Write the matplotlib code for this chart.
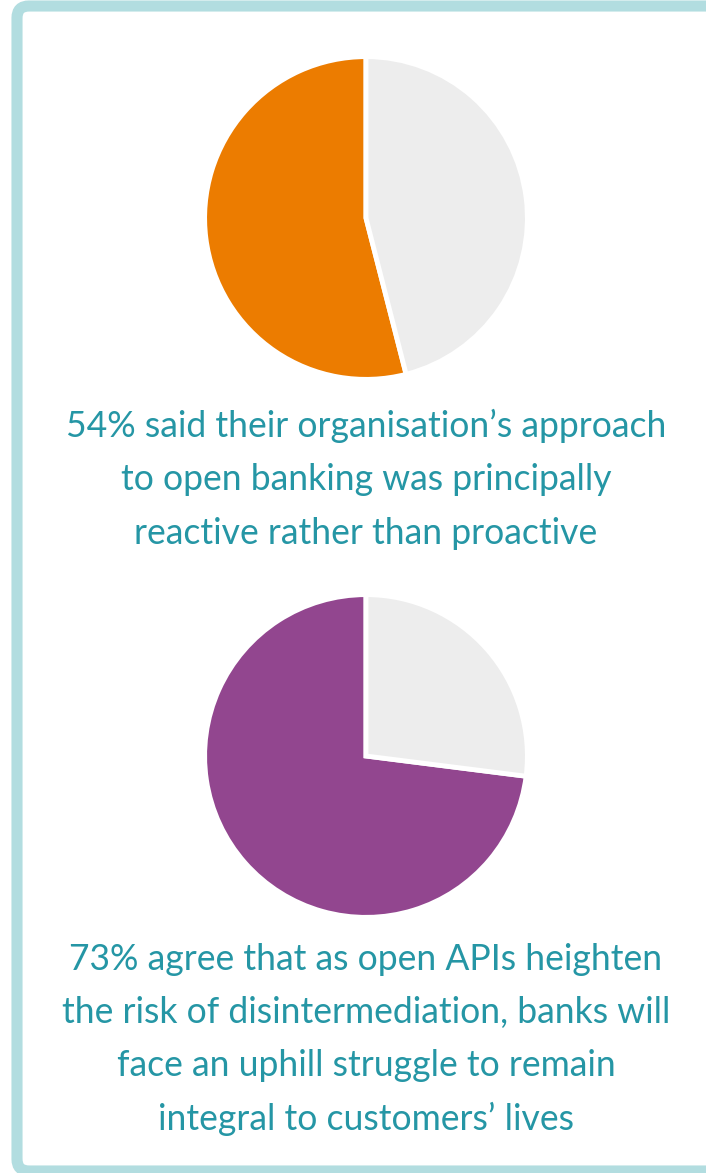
import matplotlib
matplotlib.use("Agg")
import matplotlib.pyplot as plt
from matplotlib.patches import FancyBboxPatch

W, H = 706, 1173

# survey results: share agreeing vs the rest
reactive_share = [54, 46]
disintermediation_share = [73, 27]

reactive_colors = ["#ec7c00", "#ededed"]
disintermediation_colors = ["#92468f", "#ededed"]

reactive_caption = ["54% said their organisation\u2019s approach",
                    "to open banking was principally",
                    "reactive rather than proactive"]
disintermediation_caption = ["73% agree that as open APIs heighten",
                             "the risk of disintermediation, banks will",
                             "face an uphill struggle to remain",
                             "integral to customers\u2019 lives"]

TEXT_COLOR = "#2596a5"
BORDER_COLOR = "#b2dde0"

fig = plt.figure(figsize=(W / 100, H / 100), dpi=100)
fig.patch.set_facecolor("white")

# background axes in pixel units for border and captions
bg = fig.add_axes([0, 0, 1, 1])
bg.set_xlim(0, W)
bg.set_ylim(H, 0)
bg.axis("off")

frame = FancyBboxPatch((17, 6), 740, 1165,
                       boxstyle="round,pad=0,rounding_size=12",
                       facecolor="white", edgecolor=BORDER_COLOR,
                       linewidth=8, zorder=0)
bg.add_patch(frame)


def draw_pie(values, colors, cx, cy, r):
    ax = fig.add_axes([(cx - r) / W, 1 - (cy + r) / H, 2 * r / W, 2 * r / H])
    ax.pie(values, colors=colors, startangle=90, counterclock=True,
           wedgeprops=dict(edgecolor="white", linewidth=3.5))
    ax.set_xlim(-1.01, 1.01)
    ax.set_ylim(-1.01, 1.01)
    ax.set_aspect("equal")
    ax.axis("off")


draw_pie(reactive_share, reactive_colors, 366, 218, 163)
draw_pie(disintermediation_share, disintermediation_colors, 366, 756, 163)


def draw_caption(lines, y0, step):
    for i, line in enumerate(lines):
        bg.text(366, y0 + i * step, line, ha="center", va="center",
                color=TEXT_COLOR, fontsize=25.6, family="Lato")


draw_caption(reactive_caption, 426, 53.5)
draw_caption(disintermediation_caption, 960, 53)

fig.savefig("out.png", dpi=100)
